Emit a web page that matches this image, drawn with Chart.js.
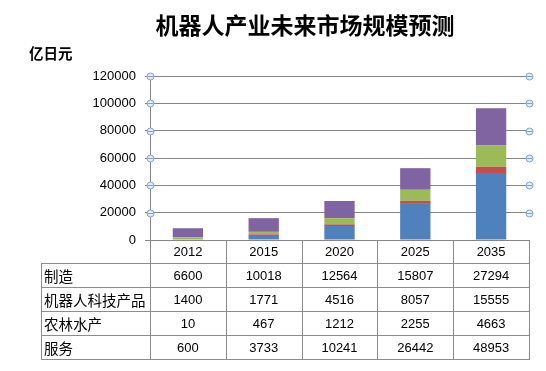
<!DOCTYPE html>
<html>
<head>
<meta charset="utf-8">
<script src="https://cdn.jsdelivr.net/npm/chart.js@4"></script>
<style>
    body { margin: 0; background: #fff; }
    #wrap { width: 546px; height: 371px; }
</style>
</head>
<body>
<div id="wrap"><canvas id="guiMoChart" width="546" height="371"></canvas></div>
<script>
const anos = ['2012', '2015', '2020', '2025', '2035'];
const zhizao = [6600, 10018, 12564, 15807, 27294];
const kejiChanpin = [1400, 1771, 4516, 8057, 15555];
const nonglinShuichan = [10, 467, 1212, 2255, 4663];
const fuwu = [600, 3733, 10241, 26442, 48953];
const yTicks = [0, 20000, 40000, 60000, 80000, 100000, 120000];

// ordem da tabela (de cima para baixo)
const linhasTabela = [
    { nome: '制造', valores: zhizao },
    { nome: '机器人科技产品', valores: kejiChanpin },
    { nome: '农林水产', valores: nonglinShuichan },
    { nome: '服务', valores: fuwu }
];

const corLinha = '#8c8c8c';
const fonteNum = '13px "Liberation Sans", Arial, sans-serif';
const fonteCJK = '14.5px "Noto Sans CJK SC", sans-serif';

const textosPlugin = {
    id: 'textos',
    afterDraw(chart) {
        const ctx = chart.ctx;
        ctx.save();
        ctx.fillStyle = '#000';
        ctx.textAlign = 'center';
        ctx.textBaseline = 'middle';
        ctx.font = 'bold 23px "Noto Sans CJK SC", sans-serif';
        ctx.fillText('机器人产业未来市场规模预测', 305, 25);
        ctx.textAlign = 'left';
        ctx.font = 'bold 14.5px "Noto Sans CJK SC", sans-serif';
        ctx.fillText('亿日元', 29, 53);
        ctx.restore();
    }
};

const circulosPlugin = {
    id: 'circulos',
    afterDraw(chart) {
        const ctx = chart.ctx;
        const area = chart.chartArea;
        const y = chart.scales.y;
        ctx.save();
        yTicks.forEach(v => {
            if (v === 0) return;
            const py = Math.round(y.getPixelForValue(v)) + 0.5;
            [area.left, area.right].forEach(px => {
                px = Math.round(px) + 0.5;
                ctx.beginPath();
                ctx.arc(px, py, 3.5, 0, Math.PI * 2);
                ctx.fillStyle = '#e4edf6';
                ctx.fill();
                ctx.strokeStyle = '#7ea3c8';
                ctx.lineWidth = 1;
                ctx.stroke();
                ctx.beginPath();
                ctx.moveTo(px - 3, py);
                ctx.lineTo(px + 3, py);
                ctx.strokeStyle = '#7ea3c8';
                ctx.stroke();
            });
        });
        ctx.restore();
    }
};

const tabelaPlugin = {
    id: 'tabela',
    afterDraw(chart) {
        const ctx = chart.ctx;
        const area = chart.chartArea;
        const x = chart.scales.x;
        const esquerda = 41;
        const linhasY = [240, 263, 287, 311, 335, 359];
        const largura = (area.right - area.left) / anos.length;
        ctx.save();
        ctx.strokeStyle = corLinha;
        ctx.lineWidth = 1;
        ctx.beginPath();
        // verticais das colunas
        for (let i = 0; i <= anos.length; i++) {
            const px = Math.round(area.left + i * largura) + 0.5;
            ctx.moveTo(px, linhasY[0]);
            ctx.lineTo(px, linhasY[5]);
        }
        ctx.moveTo(esquerda + 0.5, linhasY[1]);
        ctx.lineTo(esquerda + 0.5, linhasY[5]);
        for (let j = 1; j < linhasY.length; j++) {
            ctx.moveTo(esquerda, linhasY[j] + 0.5);
            ctx.lineTo(Math.round(area.right) + 1, linhasY[j] + 0.5);
        }
        ctx.stroke();

        ctx.fillStyle = '#000';
        ctx.textBaseline = 'middle';
        ctx.textAlign = 'center';
        ctx.font = fonteNum;
        anos.forEach((ano, i) => {
            ctx.fillText(ano, x.getPixelForValue(i), (linhasY[0] + linhasY[1]) / 2 + 1);
        });
        linhasTabela.forEach((linha, j) => {
            const cy = (linhasY[j + 1] + linhasY[j + 2]) / 2 + 1;
            ctx.textAlign = 'left';
            ctx.font = fonteCJK;
            ctx.fillText(linha.nome, 44, cy);
            ctx.textAlign = 'center';
            ctx.font = fonteNum;
            linha.valores.forEach((v, i) => {
                ctx.fillText(String(v), x.getPixelForValue(i), cy);
            });
        });
        ctx.restore();
    }
};

const ctx = document.getElementById('guiMoChart').getContext('2d');
new Chart(ctx, {
    type: 'bar',
    data: {
        labels: anos,
        datasets: [
            { label: '服务', data: fuwu, backgroundColor: '#4F81BD' },
            { label: '农林水产', data: nonglinShuichan, backgroundColor: '#C0504D' },
            { label: '机器人科技产品', data: kejiChanpin, backgroundColor: '#9BBB59' },
            { label: '制造', data: zhizao, backgroundColor: '#8064A2' }
        ]
    },
    options: {
        responsive: false,
        animation: false,
        layout: {
            padding: { top: 76, right: 17, bottom: 131, left: 0 }
        },
        datasets: {
            bar: {
                barPercentage: 0.4,
                categoryPercentage: 1.0,
                borderWidth: 0
            }
        },
        plugins: {
            legend: { display: false },
            title: { display: false },
            tooltip: { enabled: false }
        },
        scales: {
            x: {
                stacked: true,
                display: false
            },
            y: {
                stacked: true,
                min: 0,
                max: 120000,
                afterFit(scale) {
                    scale.width = 150;
                },
                afterBuildTicks(scale) {
                    scale.ticks = yTicks.map(v => ({ value: v }));
                },
                grid: {
                    color: '#868686',
                    lineWidth: 1,
                    drawTicks: true,
                    tickLength: 5,
                    tickColor: '#868686'
                },
                border: {
                    display: true,
                    color: '#868686'
                },
                ticks: {
                    padding: 9,
                    color: '#000',
                    font: {
                        size: 13,
                        family: '"Liberation Sans", Arial, sans-serif'
                    },
                    callback: function(value) {
                        return String(value);
                    }
                }
            }
        }
    },
    plugins: [textosPlugin, circulosPlugin, tabelaPlugin]
});
</script>
</body>
</html>
